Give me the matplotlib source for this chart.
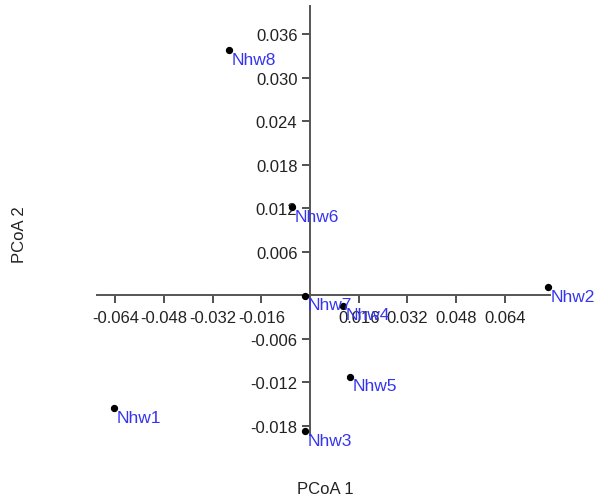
import matplotlib
matplotlib.use("Agg")
import matplotlib.pyplot as plt

plt.rcParams['font.family'] = ['Liberation Sans', 'DejaVu Sans']

labels = ["Nhw1", "Nhw2", "Nhw3", "Nhw4", "Nhw5", "Nhw6", "Nhw7", "Nhw8"]
pc1 = [-0.0644, 0.0782, -0.0016, 0.0108, 0.0131, -0.0059, -0.0016, -0.0266]
pc2 = [-0.0156, 0.0011, -0.0188, -0.0015, -0.0113, 0.01214, -0.0001, 0.0338]
xticks = [-0.064, -0.048, -0.032, -0.016, 0.016, 0.032, 0.048, 0.064]
yticks = [-0.018, -0.012, -0.006, 0.006, 0.012, 0.018, 0.024, 0.030, 0.036]

fig = plt.figure(figsize=(5.95, 5.02), dpi=100)
ax = fig.add_axes([97/595, 66/502, 453/595, 429/502])
ax.set_xlim(-0.070, 0.0789)
ax.set_ylim(-0.0193, 0.0399)

for s in ['top', 'right']:
    ax.spines[s].set_visible(False)
for s in ['left', 'bottom']:
    ax.spines[s].set_position(('data', 0))
    ax.spines[s].set_color('#555555')
    ax.spines[s].set_linewidth(1.4)

ax.set_xticks(xticks)
ax.set_xticklabels([f"{v:.3f}" for v in xticks])
ax.set_yticks(yticks)
ax.set_yticklabels([f"{v:.3f}" for v in yticks])
ax.tick_params(axis='both', direction='out', length=6, width=1.2, color='#333333',
               labelsize=12, labelcolor='#222222')
ax.tick_params(axis='x', pad=5)
ax.tick_params(axis='y', pad=3)

ax.scatter(pc1, pc2, s=18, color='black', zorder=3, clip_on=False)
for x, y, t in zip(pc1, pc2, labels):
    ax.annotate(t, (x, y), xytext=(2, -1), textcoords='offset points',
                ha='left', va='top', color='#3535f0', fontsize=12.5,
                annotation_clip=False)

fig.text(325/595, 1 - 490/502, "PCoA 1", ha='center', va='center', fontsize=12, color='#222222')
fig.text(20/595, 1 - 235/502, "PCoA 2", ha='center', va='center', rotation=90, fontsize=12, color='#222222')

fig.savefig("out.png", dpi=100)
